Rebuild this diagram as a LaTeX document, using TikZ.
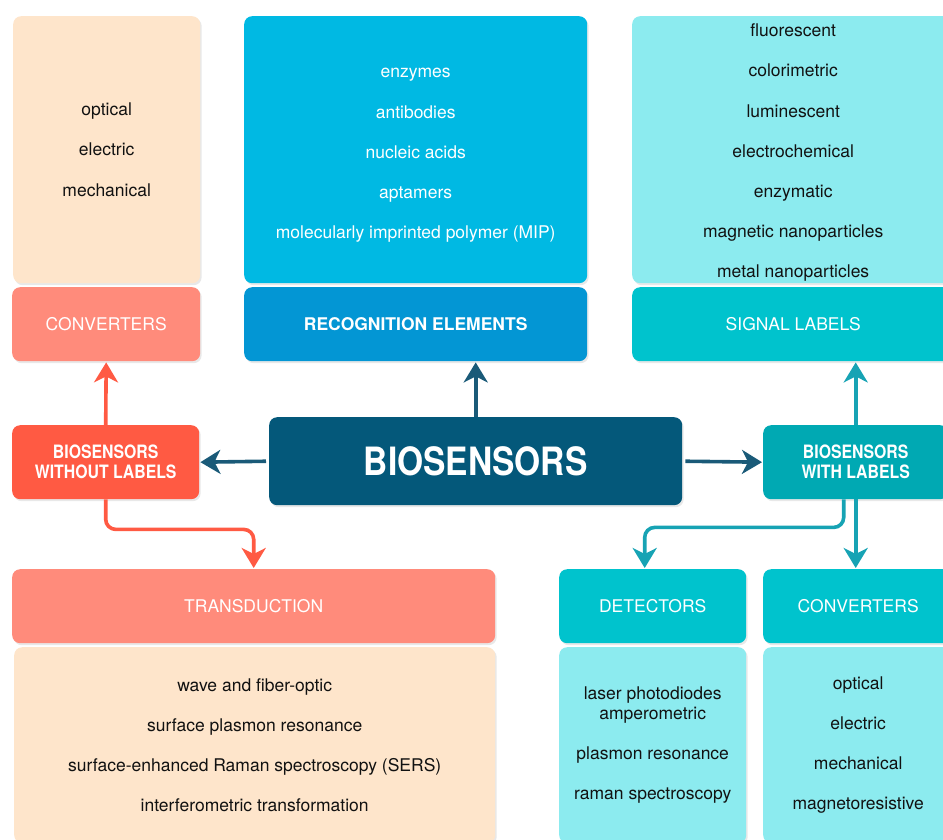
\documentclass[tikz,border=0pt]{standalone}
\usepackage{fontspec}
\setmainfont{TeX Gyre Heros}
\newfontfamily\condbf[FakeStretch=0.86]{TeX Gyre Heros}
\usetikzlibrary{arrows.meta,shadows,positioning}

\definecolor{peach}{HTML}{FEE5CB}
\definecolor{salmon}{HTML}{FF8B7B}
\definecolor{tomato}{HTML}{FF5A43}
\definecolor{skyblue}{HTML}{00B9E3}
\definecolor{midblue}{HTML}{0396D4}
\definecolor{navy}{HTML}{04587A}
\definecolor{paleteal}{HTML}{8CEBEF}
\definecolor{headteal}{HTML}{00C3CD}
\definecolor{darkteal}{HTML}{00A9B3}
\definecolor{navyline}{HTML}{1A5A78}
\definecolor{tealline}{HTML}{17A3B4}
\definecolor{ink}{HTML}{111111}

\begin{document}
\begin{tikzpicture}[x=1pt,y=-1pt,
     box/.style = {rectangle, rounded corners=8pt, inner sep=0pt, anchor=north west, align=center,
       drop shadow={opacity=0.18, shadow xshift=1.5pt, shadow yshift=-2pt}},
     txtbox/.style = {box, text=ink, font=\fontsize{17.5}{40.2}\selectfont},
     head/.style = {box, text=white, font=\fontsize{17.5}{21}\selectfont},
     kind/.style = {box, text=white, font=\condbf\bfseries\fontsize{18.4}{20}\selectfont},
     arrow/.style = {draw, line width=3.6pt, -{Stealth[length=20pt,width=24pt,inset=6pt]}, shorten >=1pt}
    ]
    \useasboundingbox (0,0) rectangle (943,839);

    % top row
    \node [txtbox, fill=peach, minimum width=187pt, minimum height=267pt] (convTxtL) at (13,16) {optical\\electric\\mechanical};
    \node [head, fill=salmon, minimum width=188pt, minimum height=74pt] (convL) at (12,287) {CONVERTERS};
    \node [txtbox, text=white, fill=skyblue, minimum width=343pt, minimum height=267pt] (recTxt) at (244,16)
      {\rule{0pt}{21pt}enzymes\\antibodies\\nucleic acids\\aptamers\\molecularly imprinted polymer (MIP)};
    \node [head, font=\fontsize{17.5}{21}\selectfont\bfseries, fill=midblue, minimum width=343pt, minimum height=74pt] (recHead) at (244,287) {RECOGNITION ELEMENTS};
    \node [txtbox, fill=paleteal, minimum width=322pt, minimum height=267pt] (sigTxt) at (632,16)
      {\rule{0pt}{19pt}fluorescent\\colorimetric\\luminescent\\electrochemical\\enzymatic\\magnetic nanoparticles\\metal nanoparticles};
    \node [head, fill=headteal, minimum width=322pt, minimum height=74pt] (sigHead) at (632,287) {SIGNAL LABELS};

    % middle row
    \node [kind, fill=tomato, minimum width=187pt, minimum height=74pt] (bioNo) at (12,425) {BIOSENSORS\\WITHOUT LABELS};
    \node [box, text=white, fill=navy, font=\condbf\bfseries\fontsize{39}{40}\selectfont, minimum width=413pt, minimum height=88pt] (bio) at (269,417) {BIOSENSORS};
    \node [kind, fill=darkteal, minimum width=185pt, minimum height=74pt] (bioWith) at (763,425) {BIOSENSORS\\WITH LABELS};

    % bottom row
    \node [head, fill=salmon, minimum width=483pt, minimum height=74pt] (trans) at (12,569) {TRANSDUCTION};
    \node [txtbox, fill=peach, minimum width=481pt, minimum height=196pt] (transTxt) at (14,647)
      {wave and fiber-optic\\surface plasmon resonance\\surface-enhanced Raman spectroscopy (SERS)\\interferometric transformation};
    \node [head, fill=headteal, minimum width=187pt, minimum height=74pt] (det) at (559,569) {DETECTORS};
    \node [txtbox, fill=paleteal, minimum width=187pt, minimum height=196pt] (detTxt) at (559,647)
      {laser photodiodes\\[-20.2pt]amperometric\\plasmon resonance\\raman spectroscopy};
    \node [head, fill=headteal, minimum width=190pt, minimum height=74pt] (convR) at (763,569) {CONVERTERS};
    \node [txtbox, fill=paleteal, minimum width=190pt, minimum height=196pt] (convTxtR) at (763,647)
      {optical\\electric\\mechanical\\magnetoresistive};

    % connectors
    \draw [arrow, navyline] (bio.north) -- (bio.north |- recHead.south);
    \draw [arrow, navyline, shorten <=3pt] (bio.west) -- (bioNo.east);
    \draw [arrow, navyline, shorten <=3pt] (bio.east) -- (bioWith.west);
    \draw [arrow, tomato] (bioNo.north) -- (convL.south);
    \draw [arrow, tomato, rounded corners=10pt] (bioNo.south) -- ++(0,30) -| (trans.north);
    \draw [arrow, tealline] (bioWith.north) -- (bioWith.north |- sigHead.south);
    \draw [arrow, tealline, rounded corners=10pt] ([xshift=-12pt]bioWith.south) -- ++(0,28) -| ([xshift=-8pt]det.north);
    \draw [arrow, tealline] (bioWith.south) -- (bioWith.south |- convR.north);

\end{tikzpicture}
\end{document}
